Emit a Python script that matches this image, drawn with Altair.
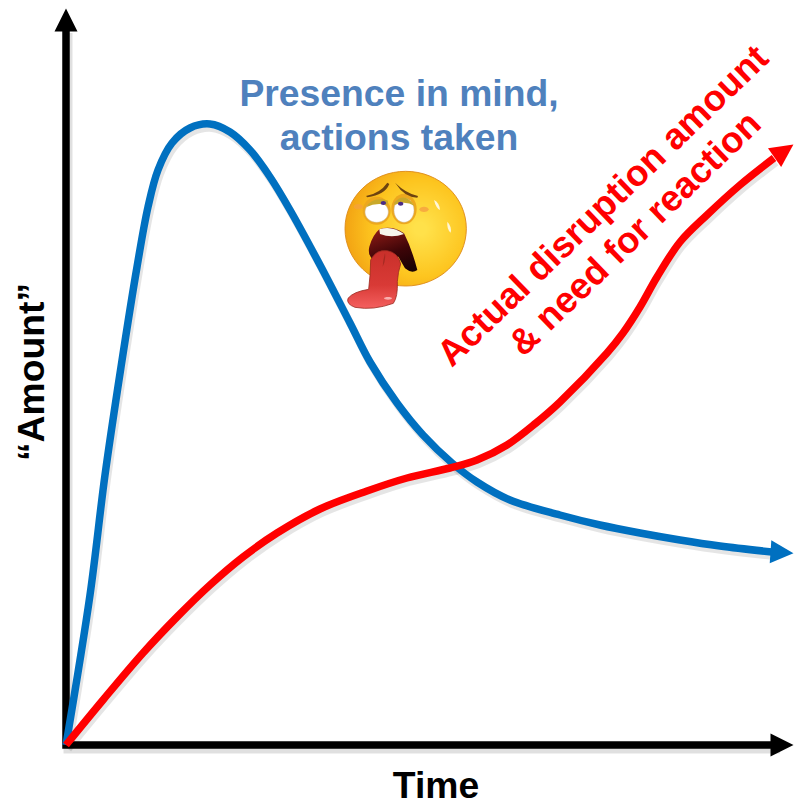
import altair as alt
import pandas as pd

# Values are picture-read: time / amount measured from the chart origin
TIME_MIN, TIME_MAX = -58, 728
AMOUNT_MIN, AMOUNT_MAX = -55, 737

blue_time = [0, 24, 39, 55, 71, 82, 92, 106, 124, 144, 164, 184, 204, 224, 254, 284, 304, 331, 357, 386, 411, 444, 494, 534, 574, 614, 654, 706]
blue_amount = [0, 150, 270, 378, 478, 538, 575, 602, 617, 621, 613, 595, 568, 535, 480, 422, 383, 342, 310, 282, 263, 245, 230, 220, 212, 205, 199, 193]
red_time = [0, 37, 77, 111, 144, 177, 211, 254, 301, 341, 384, 411, 441, 470, 494, 541, 557, 574, 591, 614, 641, 674, 708]
red_amount = [0, 45, 92, 128, 160, 188, 212, 236, 254, 267, 277, 285, 300, 322, 343, 392, 412, 438, 468, 503, 530, 560, 587]
axis_time = [0, 0, 712]
axis_amount = [716, 0, 0]

BLACK, BLUE, RED = "#000000", "#0070c0", "#ff0000"
LABEL_BLUE, FONT = "#4f81bd", "Liberation Sans"

x_scale = alt.Scale(domain=[TIME_MIN, TIME_MAX], nice=False, zero=False)
y_scale = alt.Scale(domain=[AMOUNT_MIN, AMOUNT_MAX], nice=False, zero=False)
X = alt.X("t:Q", scale=x_scale, axis=None)
Y = alt.Y("a:Q", scale=y_scale, axis=None)


def curve(ts, vals, color, width, interp="catmull-rom", dx=0, dy=0, opacity=1.0):
    df = pd.DataFrame({"t": [v + dx for v in ts], "a": [v - dy for v in vals], "o": range(len(ts))})
    return alt.Chart(df).mark_line(
        color=color, strokeWidth=width, interpolate=interp, opacity=opacity, strokeCap="butt", strokeJoin="miter"
    ).encode(x=X, y=Y, order="o:O")


ARROW = "M0,-1L1,1L-1,1Z"


def arrow(t, a, color, width, angle):
    df = pd.DataFrame({"t": [t], "a": [a]})
    return alt.Chart(df).mark_point(
        shape=ARROW, filled=True, fill=color, strokeWidth=0, opacity=1, size=width * width, angle=angle
    ).encode(x=X, y=Y)


def label(text, t, a, size, color, angle=0):
    df = pd.DataFrame({"t": [t], "a": [a], "s": [text]})
    return alt.Chart(df).mark_text(
        font=FONT, fontWeight="bold", fontSize=size, color=color, angle=angle, align="center", baseline="middle"
    ).encode(x=X, y=Y, text="s:N")


# Emoji: all shapes drawn at one anchor, paths in 3x-units of the icon box
ICON_T, ICON_A = 264, 585
ICON_SIZE = 4 / 9


def glyph(path, fill, stroke=None, sw=0.0, opacity=1.0):
    df = pd.DataFrame({"t": [ICON_T], "a": [ICON_A]})
    kw = {"stroke": stroke, "strokeWidth": sw} if stroke else {"strokeWidth": 0}
    return alt.Chart(df).mark_point(
        shape=path, filled=True, fill=fill, size=ICON_SIZE, opacity=opacity, **kw
    ).encode(x=X, y=Y)


def ell(cx, cy, rx, ry):
    return f"M{cx-rx},{cy}A{rx},{ry} 0 1 1 {cx+rx},{cy}A{rx},{ry} 0 1 1 {cx-rx},{cy}Z"


face_fill = alt.Gradient(
    gradient="radial", x1=0.62, y1=0.5, x2=0.62, y2=0.5, r1=0.05, r2=0.68,
    stops=[alt.GradientStop(color="#ffe14a", offset=0), alt.GradientStop(color="#fdc51f", offset=0.55),
           alt.GradientStop(color="#f09a10", offset=1)],
)
tongue_fill = alt.Gradient(
    gradient="linear", x1=0.5, y1=0, x2=0.5, y2=1,
    stops=[alt.GradientStop(color="#c9302a", offset=0), alt.GradientStop(color="#d93a36", offset=0.6),
           alt.GradientStop(color="#f4605f", offset=1)],
)
mouth_fill = alt.Gradient(
    gradient="linear", x1=0.3, y1=0, x2=0.7, y2=1,
    stops=[alt.GradientStop(color="#8a1a15", offset=0), alt.GradientStop(color="#3e0508", offset=0.55),
           alt.GradientStop(color="#1a0204", offset=1)],
)
emoji = [
    glyph(ell(227, 206, 182, 172), face_fill, "#dd8a1a", 0.9),
    glyph(ell(282, 148, 14, 8), "#f5a040", opacity=0.8),
    glyph(ell(85, 140, 14, 8), "#f5a040", opacity=0.7),
    glyph("M312,120Q328,128 330,150Q318,145 312,120Z", "#fff6d8"),
    glyph("M352,185Q366,200 362,218Q350,208 352,185Z", "#fff6d8"),
    # eye sockets and eyes
    glyph(ell(140, 152, 42, 42), "#eda81e"),
    glyph(ell(222, 147, 38, 46), "#eda81e"),
    glyph(ell(140, 156, 35, 31), "#ffffff", "#c9b8a0", 0.5),
    glyph(ell(222, 151, 30, 36), "#ffffff", "#c9b8a0", 0.5),
    # lids and pupils
    glyph("M108,142Q128,108 174,122L172,136Q140,126 108,142Z", "#c9a92a"),
    glyph("M192,128Q225,92 254,138Q225,120 194,135Z", "#c9a92a"),
    glyph(ell(160, 129, 8, 6), "#4a2c86"),
    glyph(ell(212, 131, 8, 6), "#4a2c86"),
    # brows
    glyph("M108,108Q150,100 172,68L178,72Q165,105 112,112Z", "#6e4310"),
    glyph("M195,68Q228,100 264,108L262,113Q222,110 200,74Z", "#6e4310"),
    # mouth
    glyph("M148,208Q185,195 222,220Q245,265 262,330Q245,342 225,325L205,290L130,300Q112,285 118,260Q128,225 148,208Z",
          mouth_fill),
    glyph("M148,208Q185,195 222,222Q185,236 150,222Z", "#f6f6ec"),
    # tongue
    glyph("M122,300Q138,268 172,272Q205,278 212,312Q204,335 202,365Q204,410 190,430Q130,452 75,442Q48,432 54,415Q70,395 116,388Q122,340 122,300Z",
          tongue_fill, "#9a2a1f", 0.8),
    glyph("M165,280Q168,300 158,320Q160,295 165,280Z", "#a52a22"),
    glyph(ell(174, 415, 12, 4), "#f9b0ae"),
]

BLUE_S = curve(blue_time, blue_amount, "#000000", 8, dx=2, dy=4, opacity=0.1)
RED_S = curve(red_time, red_amount, "#000000", 8, dx=2, dy=4, opacity=0.1)
AXIS_S = curve(axis_time, axis_amount, "#000000", 9, interp="linear", dx=2, dy=4, opacity=0.12)

layers = [
    AXIS_S,
    BLUE_S,
    RED_S,
    curve(axis_time, axis_amount, BLACK, 7.5, interp="linear"),
    arrow(0, 725, BLACK, 23, 0),
    arrow(716, 0, BLACK, 23, 90),
    curve(blue_time, blue_amount, BLUE, 7.5),
    arrow(716, 192.5, BLUE, 23, 94),
    curve(red_time, red_amount, RED, 7.5),
    arrow(718, 594, RED, 23, 55),
    label("Presence in mind,", 333, 650, 37.3, LABEL_BLUE),
    label("actions taken", 333, 606, 37.3, LABEL_BLUE),
    label("Actual disruption amount", 537.5, 538.5, 36.6, RED, 316),
    label("& need for reaction", 569.5, 511, 36.6, RED, 316),
    label("\u201cAmount\u201d", -33, 373, 37.3, BLACK, 270),
    label("Time", 370, -42, 37.3, BLACK),
] + emoji

chart = alt.layer(*layers).properties(
    width=786, height=792, padding=0, background="#ffffff", autosize=alt.AutoSizeParams(type="none")
).configure_view(strokeWidth=0)
chart.save("out.html", embed_options={"renderer": "svg", "actions": False})
